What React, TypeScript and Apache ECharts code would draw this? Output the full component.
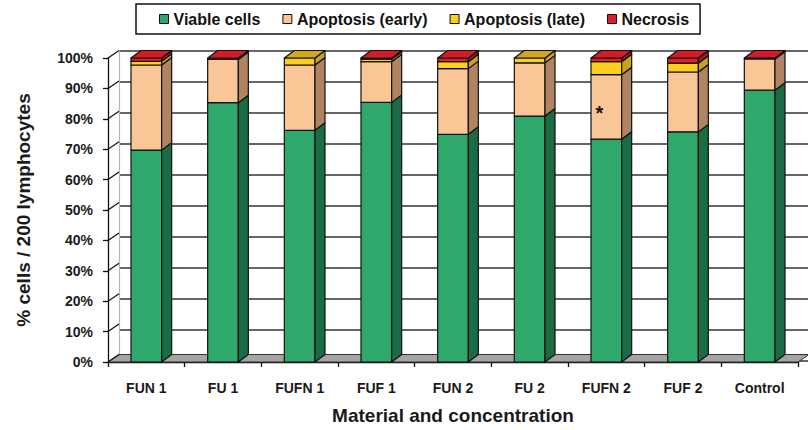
import React, { useEffect, useRef } from "react";
import * as echarts from "echarts";

const categories = ["FUN 1", "FU 1", "FUFN 1", "FUF 1", "FUN 2", "FU 2", "FUFN 2", "FUF 2", "Control"];
const viable = [69.7, 85.3, 76.2, 85.4, 74.9, 80.9, 73.3, 75.7, 89.4];
const early = [28.0, 14.2, 21.5, 13.4, 21.6, 17.5, 21.2, 19.7, 10.3];
const late = [1.2, 0, 2.3, 0.8, 2.3, 1.6, 4.3, 2.9, 0];
const necrosis = [1.1, 0.5, 0, 0.4, 1.2, 0, 1.2, 1.7, 0.3];
const seriesNames = ["Viable cells", "Apoptosis (early)", "Apoptosis (late)", "Necrosis"];
const yTicks = [0, 10, 20, 30, 40, 50, 60, 70, 80, 90, 100];
const annotations = [{ category: "FUFN 2", value: 83, text: "*" }];

const FONT = '"Liberation Sans", Arial, Helvetica, sans-serif';

const palette = [
  { front: "#2fa86b", side: "#1b6b45", top: "#2a9a60" },
  { front: "#f9c796", side: "#b08462", top: "#e5b585" },
  { front: "#fccf1e", side: "#c9a31c", top: "#d1a71c" },
  { front: "#de1f2b", side: "#a3171f", top: "#d21d29" },
];

const BAR_RATIO = 0.4;
const BAR_DX = 10;
const BAR_DY = 7.5;
const WALL_DX = 11;
const WALL_DY = 7.5;

const layers = [viable, early, late, necrosis];

function stackData(k: number) {
  return categories.map((_, j) => {
    let base = 0;
    for (let m = 0; m < k; m++) base += layers[m][j];
    const top = base + layers[k][j];
    let topIdx = -1;
    for (let m = 0; m < layers.length; m++) if (layers[m][j] > 0) topIdx = m;
    return [j, base, top, topIdx === k ? 1 : 0];
  });
}

const makeBarRender = (k: number) => (params: any, api: any) => {
  const j = api.value(0);
  const b = api.value(1);
  const t = api.value(2);
  const isTop = api.value(3);
  if (t - b <= 0) return null;
  const band = api.size([1, 0])[0];
  const w = band * BAR_RATIO;
  const pb = api.coord([j, b]);
  const pt = api.coord([j, t]);
  const cx = pb[0];
  const yb = pb[1];
  const yt = pt[1];
  const x0 = cx - w / 2;
  const x1 = cx + w / 2;
  const c = palette[k];
  const stroke = { stroke: "#111", lineWidth: 1.2, lineJoin: "round" };
  const children: any[] = [
    { type: "polygon", shape: { points: [[x0, yb], [x1, yb], [x1, yt], [x0, yt]] }, style: { fill: c.front, ...stroke } },
    {
      type: "polygon",
      shape: { points: [[x1, yb], [x1 + BAR_DX, yb - BAR_DY], [x1 + BAR_DX, yt - BAR_DY], [x1, yt]] },
      style: { fill: c.side, ...stroke },
    },
  ];
  if (isTop) {
    children.push({
      type: "polygon",
      shape: { points: [[x0, yt], [x1, yt], [x1 + BAR_DX, yt - BAR_DY], [x0 + BAR_DX, yt - BAR_DY]] },
      style: { fill: c.top, ...stroke },
    });
  }
  return { type: "group", children };
};

export default function App() {
  const ref = useRef<HTMLDivElement>(null);
  useEffect(() => {
    if (!ref.current) return;
    const chart = echarts.init(ref.current, undefined, { renderer: "svg" });
    const textBase = { fontFamily: FONT, fontWeight: "bold" as const, color: "#1a1a1a" };
    const option: any = {
      animation: false,
      backgroundColor: "#ffffff",
      legend: {
        data: seriesNames.map((n, k) => ({
          name: n,
          itemStyle: { color: palette[k].front, borderColor: "#111", borderWidth: 1 },
        })),
        left: 136,
        top: 4,
        icon: "rect",
        itemWidth: 9,
        itemHeight: 9,
        itemGap: 22,
        borderColor: "#111",
        borderWidth: 1.5,
        padding: [7, 11, 7, 23],
        selectedMode: false,
        textStyle: { ...textBase, fontSize: 16, color: "#111" },
      },
      grid: [
        { left: 108, top: 58, width: 690, height: 310 },
        { left: 108 + WALL_DX, top: 58 - WALL_DY, width: 690, height: 310 },
      ],
      xAxis: [
        {
          type: "category",
          gridIndex: 0,
          data: categories,
          axisLine: { show: true, lineStyle: { color: "#111", width: 1.3 } },
          axisTick: { show: true, length: 5, lineStyle: { color: "#111", width: 1.3 } },
          axisLabel: { ...textBase, fontSize: 14, margin: 19, interval: 0 },
          splitLine: { show: false },
          name: "Material and concentration",
          nameLocation: "middle",
          nameGap: 44,
          nameTextStyle: { ...textBase, fontSize: 19 },
        },
        { type: "category", gridIndex: 1, data: categories, show: false },
      ],
      yAxis: [
        {
          type: "value",
          gridIndex: 0,
          min: 0,
          max: 100,
          interval: 10,
          axisLine: { show: true, lineStyle: { color: "#111", width: 1.3 } },
          axisTick: { show: true, length: 5, lineStyle: { color: "#111", width: 1.3 } },
          axisLabel: { ...textBase, fontSize: 14, margin: 15, formatter: (v: number) => `${v}%` },
          splitLine: { show: false },
          name: "% cells / 200 lymphocytes",
          nameLocation: "middle",
          nameGap: 75,
          nameRotate: 90,
          nameTextStyle: { ...textBase, fontSize: 19 },
        },
        {
          type: "value",
          gridIndex: 1,
          min: 0,
          max: 100,
          interval: 10,
          axisLine: { show: true, lineStyle: { color: "#b5b5b5", width: 1.2 } },
          axisTick: { show: false },
          axisLabel: { show: false },
          splitLine: { show: true, lineStyle: { color: "#333333", width: 1.6 } },
        },
      ],
      series: [
        {
          type: "custom",
          name: "frame",
          xAxisIndex: 0,
          yAxisIndex: 0,
          silent: true,
          clip: false,
          z: 1,
          data: yTicks.map((v) => [0, v]),
          renderItem: (params: any, api: any) => {
            const cs = params.coordSys;
            const y = api.coord([0, api.value(1)])[1];
            const children: any[] = [
              {
                type: "line",
                shape: { x1: cs.x, y1: y, x2: cs.x + WALL_DX, y2: y - WALL_DY },
                style: { stroke: "#111", lineWidth: 1.2 },
              },
            ];
            if (params.dataIndex === 0) {
              children.unshift({
                type: "polygon",
                shape: {
                  points: [
                    [cs.x, y],
                    [cs.x + cs.width, y],
                    [cs.x + cs.width + WALL_DX, y - WALL_DY],
                    [cs.x + WALL_DX, y - WALL_DY],
                  ],
                },
                style: { fill: "#a5a5a5", stroke: "#333", lineWidth: 1 },
              });
            }
            return { type: "group", children };
          },
        },
        ...seriesNames.map((n, k) => ({
          type: "custom",
          name: n,
          xAxisIndex: 0,
          yAxisIndex: 0,
          clip: false,
          z: 2,
          itemStyle: { color: palette[k].front, borderColor: "#111", borderWidth: 1 },
          data: stackData(k),
          renderItem: makeBarRender(k),
        })),
        {
          type: "custom",
          name: "annotations",
          xAxisIndex: 0,
          yAxisIndex: 0,
          clip: false,
          z: 5,
          silent: true,
          data: annotations.map((a) => [categories.indexOf(a.category), a.value]),
          renderItem: (params: any, api: any) => {
            const p = api.coord([api.value(0), api.value(1)]);
            return {
              type: "text",
              x: p[0] - 7,
              y: p[1] + 3,
              style: {
                text: annotations[params.dataIndex].text,
                fill: "#111",
                fontFamily: FONT,
                fontWeight: "bold",
                fontSize: 20,
                align: "center",
                verticalAlign: "middle",
              },
            };
          },
        },
      ],
    };
    chart.setOption(option);
    return () => chart.dispose();
  }, []);
  return (
    <div
      ref={ref}
      style={{ position: "fixed", left: 0, top: 0, width: 808, height: 430, background: "#fff" }}
    />
  );
}
